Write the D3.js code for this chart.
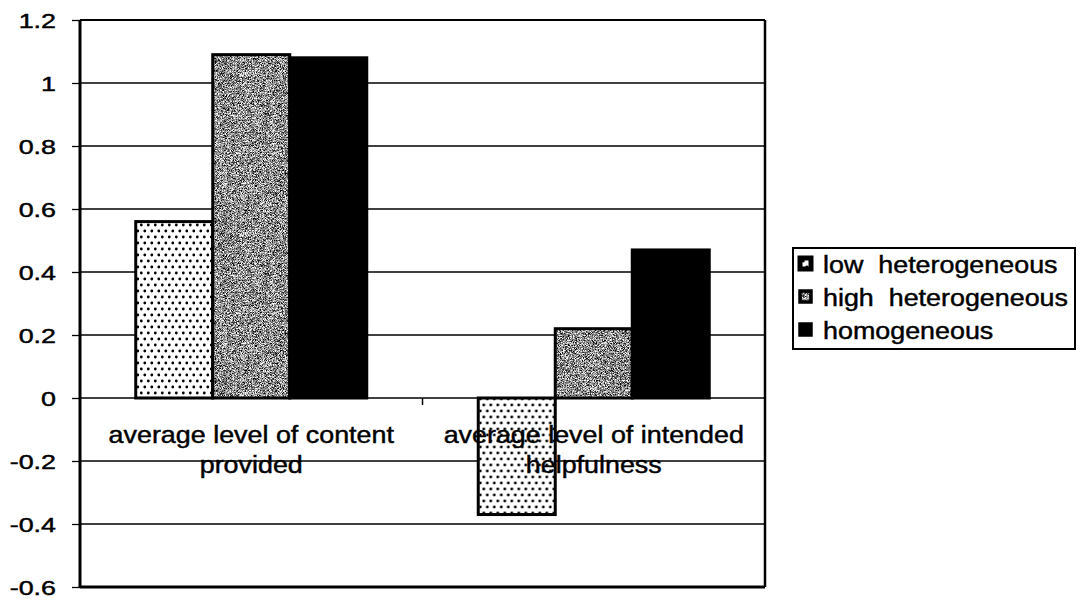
<!DOCTYPE html>
<html>
<head>
<meta charset="utf-8">
<script src="https://cdn.jsdelivr.net/npm/d3@7"></script>
<style>
  html, body { margin: 0; padding: 0; background: #fff; }
  svg { display: block; }
  text { font-family: "Liberation Sans", Arial, sans-serif; fill: #000; stroke: #000; stroke-width: 0.45; }
</style>
</head>
<body>
<svg id="chart" width="1080" height="602"></svg>
<script>
// Category labels (one entry per line of the wrapped label)
const categories = ["content", "helpfulness"];
const categoryLines = [
  ["average level of content", "provided"],
  ["average level of intended", "helpfulness"]
];
const series = ["low heterogeneous", "high heterogeneous", "homogeneous"];
const lowHeterogeneous  = [0.56, -0.37];
const highHeterogeneous = [1.09, 0.22];
const homogeneous       = [1.08, 0.47];
const yTicks = [-0.6, -0.4, -0.2, 0, 0.2, 0.4, 0.6, 0.8, 1, 1.2];
const yTickLabels = ["-0.6", "-0.4", "-0.2", "0", "0.2", "0.4", "0.6", "0.8", "1", "1.2"];

const seriesValues = [lowHeterogeneous, highHeterogeneous, homogeneous];

const svg = d3.select("#chart");
const plotLeft = 80, plotRight = 765, plotTop = 20, plotBottom = 587;

const defs = svg.append("defs");
// staggered dot fill
const dots = defs.append("pattern").attr("id", "dots")
  .attr("patternUnits", "userSpaceOnUse").attr("width", 7).attr("height", 12);
dots.append("rect").attr("width", 7).attr("height", 12).attr("fill", "#fff");
dots.append("circle").attr("cx", 1.8).attr("cy", 3).attr("r", 1.4).attr("fill", "#000");
dots.append("circle").attr("cx", 5.3).attr("cy", 9).attr("r", 1.4).attr("fill", "#000");

// fine grainy grey fill
const grain = defs.append("filter").attr("id", "grain")
  .attr("x", 0).attr("y", 0).attr("width", 1).attr("height", 1)
  .attr("color-interpolation-filters", "sRGB");
grain.append("feTurbulence").attr("type", "fractalNoise").attr("baseFrequency", 1.6)
  .attr("numOctaves", 1).attr("seed", 7).attr("result", "n");
grain.append("feColorMatrix").attr("in", "n").attr("type", "matrix")
  .attr("values", "2.6 0 0 0 -0.75  2.6 0 0 0 -0.75  2.6 0 0 0 -0.75  0 0 0 0 1").attr("result", "g");
grain.append("feComposite").attr("in", "g").attr("in2", "SourceGraphic").attr("operator", "in");

const fills = ["url(#dots)", "#9a9a9a", "#000"];
const filters = [null, "url(#grain)", null];

const y = d3.scaleLinear().domain([-0.6, 1.2]).range([plotBottom, plotTop]);
const x0 = d3.scaleBand().domain(categories).range([plotLeft, plotRight]).paddingInner(0).paddingOuter(0);
const x1 = d3.scaleBand().domain(series).range([0, x0.bandwidth()]).paddingInner(0).paddingOuter(0.724);

function stretchedText(g, x, yy, str, anchor, fs, sx) {
  return g.append("text")
    .attr("transform", `translate(${x},${yy}) scale(${sx},1)`)
    .attr("text-anchor", anchor)
    .attr("font-size", fs)
    .style("white-space", "pre")
    .text(str);
}

// horizontal gridlines
svg.append("g").selectAll("line").data(yTicks).join("line")
  .attr("x1", plotLeft).attr("x2", plotRight)
  .attr("y1", d => y(d)).attr("y2", d => y(d))
  .attr("stroke", "#000").attr("stroke-width", 1.3);

// bars
const groups = svg.append("g").selectAll("g").data(categories).join("g")
  .attr("transform", d => `translate(${x0(d)},0)`);
series.forEach((s, si) => {
  groups.each(function(c, ci) {
    const v = seriesValues[si][ci];
    const g = d3.select(this);
    const bx = x1(s), bw = x1.bandwidth();
    const by = y(Math.max(0, v)), bh = Math.abs(y(v) - y(0));
    g.append("rect").attr("x", bx).attr("y", by).attr("width", bw).attr("height", bh)
      .attr("fill", fills[si]).attr("filter", filters[si]);
    g.append("rect").attr("x", bx).attr("y", by).attr("width", bw).attr("height", bh)
      .attr("fill", "none").attr("stroke", "#000").attr("stroke-width", 3);
  });
});

// y axis
const yAxis = svg.append("g").attr("transform", `translate(${plotLeft},0)`)
  .call(d3.axisLeft(y).tickValues(yTicks).tickSize(8).tickFormat(""));
yAxis.select(".domain").remove();
yAxis.selectAll(".tick line").attr("stroke", "#000").attr("stroke-width", 1.3);
const yl = svg.append("g");
yTicks.forEach((t, i) => stretchedText(yl, 56, y(t) + 8, yTickLabels[i], "end", 21, 1.28));

// category boundary tick on the zero line
svg.append("g").selectAll("line").data(categories.slice(1)).join("line")
  .attr("x1", d => x0(d)).attr("x2", d => x0(d))
  .attr("y1", y(0)).attr("y2", y(0) + 7)
  .attr("stroke", "#000").attr("stroke-width", 1.5);

// plot frame
svg.append("line").attr("x1", plotLeft).attr("x2", plotRight).attr("y1", plotTop).attr("y2", plotTop)
  .attr("stroke", "#000").attr("stroke-width", 2);
svg.append("line").attr("x1", plotRight).attr("x2", plotRight).attr("y1", plotTop).attr("y2", plotBottom)
  .attr("stroke", "#000").attr("stroke-width", 2.5);
svg.append("line").attr("x1", plotLeft).attr("x2", plotRight).attr("y1", plotBottom).attr("y2", plotBottom)
  .attr("stroke", "#000").attr("stroke-width", 3);
svg.append("line").attr("x1", plotLeft).attr("x2", plotLeft).attr("y1", plotTop).attr("y2", plotBottom)
  .attr("stroke", "#000").attr("stroke-width", 3);

// category labels
const cl = svg.append("g");
categories.forEach((c, i) => {
  const cx = x0(c) + x0.bandwidth() / 2;
  categoryLines[i].forEach((ln, li) => stretchedText(cl, cx, 443 + li * 30, ln, "middle", 24, 1.12));
});

// legend
const lg = svg.append("g");
lg.append("rect").attr("x", 793).attr("y", 248).attr("width", 282).attr("height", 101)
  .attr("fill", "#fff").attr("stroke", "#000").attr("stroke-width", 2);
series.forEach((s, i) => {
  const ry = 258 + i * 33;
  lg.append("rect").attr("x", 800).attr("y", ry).attr("width", 11).attr("height", 11)
    .attr("fill", fills[i]).attr("filter", filters[i]);
  lg.append("rect").attr("x", 800).attr("y", ry).attr("width", 11).attr("height", 11)
    .attr("fill", "none").attr("stroke", "#000").attr("stroke-width", i === 0 ? 5 : 3.5);
  stretchedText(lg, 823, ry + 15, s.replace(" ", "  "), "start", 24, 1.12);
});
</script>
</body>
</html>
